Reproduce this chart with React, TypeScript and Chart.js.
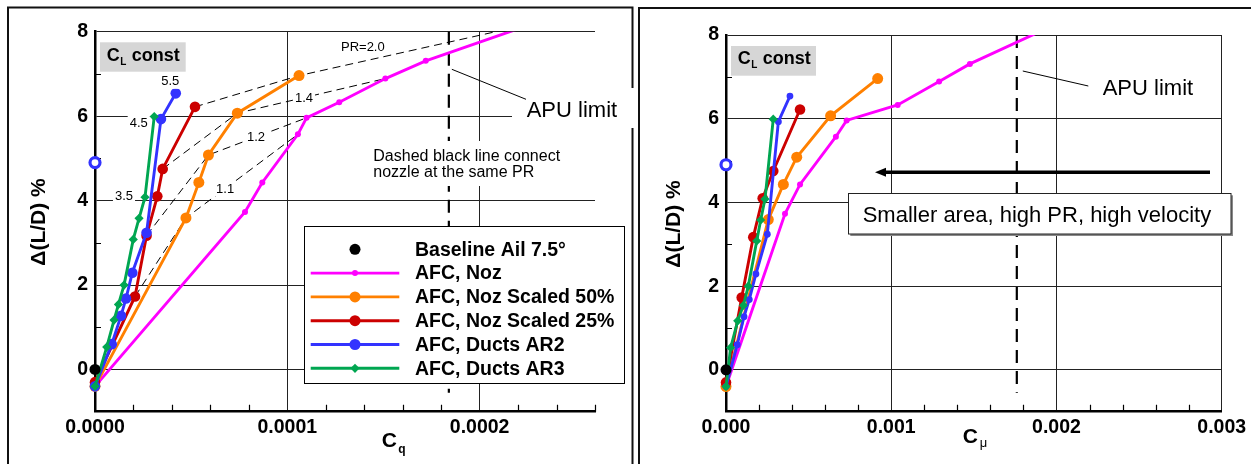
import React, { useEffect, useRef } from 'react';
import { Chart, registerables } from 'chart.js';

Chart.register(...registerables);

const FONT = '"Liberation Sans", Arial, Helvetica, sans-serif';

// ---------------- Data ----------------
const yTickValues = [0, 2, 4, 6, 8];
const yTickLabels = ['0', '2', '4', '6', '8'];
const yMinorTicks = [1, 3, 5, 7];

const cqTickValues = [0, 0.0001, 0.0002];
const cqTickLabels = ['0.0000', '0.0001', '0.0002'];
const cqMinorTicks = [0.00002, 0.00004, 0.00006, 0.00008, 0.00012, 0.00014, 0.00016, 0.00018, 0.00022, 0.00024, 0.00026];

const cmuTickValues = [0, 0.001, 0.002, 0.003];
const cmuTickLabels = ['0.000', '0.001', '0.002', '0.003'];
const cmuMinorTicks = [0.0002, 0.0004, 0.0006, 0.0008, 0.0012, 0.0014, 0.0016, 0.0018, 0.0022, 0.0024, 0.0026, 0.0028];

const seriesNames = ['Baseline Ail 7.5°', 'AFC, Noz', 'AFC, Noz Scaled 50%', 'AFC, Noz Scaled 25%', 'AFC, Ducts AR2', 'AFC, Ducts AR3'];

const baselineCq = [0];
const baselineCmu = [0];
const baselineDLD = [0];

const nozCq = [0, 0.000078, 0.000087, 0.0001055, 0.00011, 0.000127, 0.000151, 0.000172, 0.000229];
const nozCmu = [0, 0.000357, 0.000448, 0.000665, 0.00073, 0.001039, 0.00129, 0.001476, 0.00197];
const nozDLD = [-0.4, 3.73, 4.43, 5.57, 5.96, 6.33, 6.89, 7.31, 8.21];

const scaled50Cq = [0, 0.0000473, 0.000054, 0.000059, 0.000074, 0.0001061];
const scaled50Cmu = [0, 0.000256, 0.000347, 0.000428, 0.000633, 0.000918];
const scaled50DLD = [-0.4, 3.59, 4.43, 5.08, 6.07, 6.96];

const scaled25Cq = [0, 0.0000208, 0.0000268, 0.0000324, 0.0000352, 0.000052];
const scaled25Cmu = [0, 0.000095, 0.000165, 0.000222, 0.000286, 0.000448];
const scaled25DLD = [-0.3, 1.73, 3.17, 4.10, 4.75, 6.22];

const ar2Cq = [0, 0.0000087, 0.0000135, 0.0000161, 0.0000194, 0.0000268, 0.0000343, 0.000042];
const ar2Cmu = [0, 0.000068, 0.000109, 0.000141, 0.000181, 0.00025, 0.000317, 0.000387];
const ar2DLD = [-0.4, 0.60, 1.27, 1.68, 2.29, 3.24, 5.93, 6.54];

const ar3Cq = [0, 0.0000061, 0.0000099, 0.0000122, 0.0000151, 0.0000199, 0.0000229, 0.000026, 0.0000308];
const ar3Cmu = [0, 0.000028, 0.000071, 0.000105, 0.000135, 0.000186, 0.00021, 0.000236, 0.000286];
const ar3DLD = [-0.4, 0.53, 1.17, 1.54, 2.0, 3.08, 3.58, 4.08, 5.99];

const openAr2Cq = [0];
const openAr2Cmu = [0];
const openAr2DLD = [4.9];

// constant-PR connectors (indices into the nozzle series)
const prLabels = ['1.1', '1.2', '1.4', 'PR=2.0'];
const prScaled25Index = [1, 2, 4, 5];
const prScaled50Index = [1, 3, 4, 5];
const prNozIndex = [3, 4, 6, 8];

const ductLabels = ['5.5', '4.5', '3.5'];

const apuLimitCq = 0.000184;
const apuLimitCmu = 0.00176;

// ---------------- Styles ----------------
const C_MAG = '#ff00ff';
const C_ORA = '#ff8000';
const C_RED = '#cc0000';
const C_BLU = '#3333ff';
const C_GRN = '#00a651';

const pts = (xs: number[], ys: number[]) => xs.map((x, i) => ({ x, y: ys[i] }));

const CLIP = { left: 10, top: 0, right: 10, bottom: 10 };

function series(data: any[], color: string, r: number, style: string, order: number, showLine = true, bw = 2.9) {
  return {
    data,
    showLine,
    borderColor: color,
    backgroundColor: color,
    borderWidth: bw,
    pointRadius: r,
    pointStyle: style,
    pointBackgroundColor: color,
    pointBorderColor: color,
    pointBorderWidth: 0,
    tension: 0,
    order,
    clip: CLIP,
  };
}

function buildDatasets(isCq: boolean) {
  const X = (a: number[], b: number[]) => (isCq ? a : b);
  const ds: any[] = [
    series(pts(X(baselineCq, baselineCmu), baselineDLD), '#000', 5.5, 'circle', 0, false),
    series(pts(X(ar3Cq, ar3Cmu), ar3DLD), C_GRN, 4.6, 'rectRot', 1),
    series(pts(X(ar2Cq, ar2Cmu), ar2DLD), C_BLU, isCq ? 5.3 : 3.4, 'circle', 2),
    series(pts(X(scaled25Cq, scaled25Cmu), scaled25DLD), C_RED, 5.3, 'circle', 3),
    series(pts(X(scaled50Cq, scaled50Cmu), scaled50DLD), C_ORA, 5.5, 'circle', 4),
    series(pts(X(nozCq, nozCmu), nozDLD), C_MAG, 3, 'circle', 5),
    {
      data: pts(X(openAr2Cq, openAr2Cmu), openAr2DLD),
      showLine: false,
      pointRadius: 5,
      pointBorderWidth: 3.2,
      pointBorderColor: C_BLU,
      pointBackgroundColor: '#fff',
      order: 0,
      clip: CLIP,
    },
  ];
  if (isCq) {
    prLabels.forEach((_l, k) => {
      ds.push({
        data: [
          { x: scaled25Cq[prScaled25Index[k]], y: scaled25DLD[prScaled25Index[k]] },
          { x: scaled50Cq[prScaled50Index[k]], y: scaled50DLD[prScaled50Index[k]] },
          { x: nozCq[prNozIndex[k]], y: nozDLD[prNozIndex[k]] },
        ],
        showLine: true,
        borderColor: '#000',
        borderWidth: 1,
        borderDash: [8, 5],
        pointRadius: 0,
        tension: 0,
        order: 10,
        clip: CLIP,
      });
    });
  }
  return ds;
}

// ---------------- drawing helpers ----------------
function labelBox(ctx: CanvasRenderingContext2D, text: string, x: number, y: number, size: number, padX = 2) {
  ctx.save();
  ctx.font = `${size}px ${FONT}`;
  const w = ctx.measureText(text).width;
  ctx.fillStyle = '#fff';
  ctx.fillRect(x - w / 2 - padX, y - size / 2 - 1, w + 2 * padX, size + 2);
  ctx.fillStyle = '#000';
  ctx.textAlign = 'center';
  ctx.textBaseline = 'middle';
  ctx.fillText(text, x, y + 0.5);
  ctx.restore();
}

function marker(ctx: CanvasRenderingContext2D, style: string, x: number, y: number, r: number, color: string) {
  ctx.beginPath();
  if (style === 'rectRot') {
    ctx.moveTo(x, y - r);
    ctx.lineTo(x + r, y);
    ctx.lineTo(x, y + r);
    ctx.lineTo(x - r, y);
    ctx.closePath();
  } else {
    ctx.arc(x, y, r, 0, Math.PI * 2);
  }
  ctx.fillStyle = color;
  ctx.fill();
}

function drawCLconst(ctx: CanvasRenderingContext2D, bx: number, by: number, bw: number, bh: number, tx: number, base: number) {
  ctx.save();
  ctx.fillStyle = '#d6d6d6';
  ctx.fillRect(bx, by, bw, bh);
  ctx.fillStyle = '#000';
  ctx.textBaseline = 'alphabetic';
  ctx.textAlign = 'left';
  ctx.font = `bold 18px ${FONT}`;
  ctx.fillText('C', tx, base);
  const cw = ctx.measureText('C').width;
  ctx.font = `bold 10px ${FONT}`;
  ctx.fillText('L', tx + cw + 0.5, base + 4);
  const lw = ctx.measureText('L').width;
  ctx.font = `bold 18px ${FONT}`;
  ctx.fillText(' const', tx + cw + lw + 1, base);
  ctx.restore();
}

function drawYTitle(ctx: CanvasRenderingContext2D, x: number, y: number) {
  ctx.save();
  ctx.translate(x, y);
  ctx.rotate(-Math.PI / 2);
  ctx.font = `bold 21px ${FONT}`;
  ctx.fillStyle = '#000';
  ctx.textAlign = 'center';
  ctx.textBaseline = 'middle';
  ctx.fillText('\u0394(L/D) %', 0, 0);
  ctx.restore();
}

function drawMinorTicks(chart: any, xMinor: number[]) {
  const ctx = chart.ctx as CanvasRenderingContext2D;
  const xs = chart.scales.x;
  const ys = chart.scales.y;
  const a = chart.chartArea;
  ctx.save();
  ctx.strokeStyle = '#000';
  ctx.lineWidth = 1.2;
  ctx.beginPath();
  xMinor.forEach((v) => {
    const px = Math.round(xs.getPixelForValue(v)) + 0.5;
    ctx.moveTo(px, a.bottom);
    ctx.lineTo(px, a.bottom - 7);
  });
  yMinorTicks.forEach((v) => {
    const py = Math.round(ys.getPixelForValue(v)) + 0.5;
    ctx.moveTo(a.left, py);
    ctx.lineTo(a.left + 6, py);
  });
  ctx.stroke();
  ctx.restore();
}

function drawApu(chart: any, value: number) {
  const ctx = chart.ctx as CanvasRenderingContext2D;
  const xs = chart.scales.x;
  const ys = chart.scales.y;
  const px = xs.getPixelForValue(value);
  ctx.save();
  ctx.strokeStyle = '#000';
  ctx.lineWidth = 2.2;
  ctx.setLineDash([13, 8]);
  ctx.beginPath();
  ctx.moveTo(px, ys.getPixelForValue(8));
  ctx.lineTo(px, ys.getPixelForValue(-0.55));
  ctx.stroke();
  ctx.restore();
}

// ---------------- panel annotations ----------------
function leftAnnotations(chart: any) {
  const ctx = chart.ctx as CanvasRenderingContext2D;
  const xs = chart.scales.x;
  const ys = chart.scales.y;
  const P = (x: number, y: number) => ({ x: xs.getPixelForValue(x), y: ys.getPixelForValue(y) });

  // PR labels
  const tFrac = [0.35, 0.485, 0.45, 0.27];
  const dy = [0, 0, 0, -14.7];
  prLabels.forEach((lab, k) => {
    const o = P(scaled50Cq[prScaled50Index[k]], scaled50DLD[prScaled50Index[k]]);
    const m = P(nozCq[prNozIndex[k]], nozDLD[prNozIndex[k]]);
    const x = o.x + (m.x - o.x) * tFrac[k];
    const y = o.y + (m.y - o.y) * tFrac[k] + dy[k];
    labelBox(ctx, lab, x, y, 13);
  });

  // duct labels
  const a2 = P(ar2Cq[7], ar2DLD[7]);
  const a3top = P(ar3Cq[8], ar3DLD[8]);
  const a3mid = P(ar3Cq[7], ar3DLD[7]);
  labelBox(ctx, ductLabels[0], a2.x - 5.5, a2.y - 12, 13);
  labelBox(ctx, ductLabels[1], a3top.x - 15.5, a3top.y + 6.3, 13);
  labelBox(ctx, ductLabels[2], a3mid.x - 21, a3mid.y - 1.7, 13);

  // C_L const
  drawCLconst(ctx, 100, 42.3, 85.7, 29.4, 106.7, 61);

  // Dashed black line note
  ctx.save();
  ctx.fillStyle = '#fff';
  ctx.fillRect(370, 141, 206, 45);
  ctx.fillStyle = '#000';
  ctx.font = `16px ${FONT}`;
  ctx.textAlign = 'left';
  ctx.textBaseline = 'alphabetic';
  ctx.fillText('Dashed black line connect', 373.3, 160.7);
  ctx.fillText('nozzle at the same PR', 373.3, 176.7);
  ctx.restore();

  // APU limit
  ctx.save();
  ctx.fillStyle = '#fff';
  ctx.fillRect(512, 88, 124, 40);
  const ax = xs.getPixelForValue(apuLimitCq);
  ctx.strokeStyle = '#000';
  ctx.lineWidth = 1;
  ctx.beginPath();
  ctx.moveTo(ax + 3, 69.3);
  ctx.lineTo(526, 99.3);
  ctx.stroke();
  ctx.fillStyle = '#000';
  ctx.font = `22px ${FONT}`;
  ctx.textBaseline = 'alphabetic';
  ctx.fillText('APU limit', 526.7, 116.7);
  ctx.restore();

  // Legend
  const lx = 304.3, ly = 226, lw = 319.7, lh = 157.3;
  ctx.save();
  ctx.fillStyle = '#fff';
  ctx.fillRect(lx, ly, lw, lh);
  ctx.strokeStyle = '#000';
  ctx.lineWidth = 1;
  ctx.strokeRect(Math.round(lx) + 0.5, Math.round(ly) + 0.5, Math.round(lw), Math.round(lh));
  const styles = [
    { c: '#000', r: 5.5, s: 'circle', line: false },
    { c: C_MAG, r: 3, s: 'circle', line: true },
    { c: C_ORA, r: 5.5, s: 'circle', line: true },
    { c: C_RED, r: 5.5, s: 'circle', line: true },
    { c: C_BLU, r: 5.5, s: 'circle', line: true },
    { c: C_GRN, r: 4.6, s: 'rectRot', line: true },
  ];
  seriesNames.forEach((name, i) => {
    const y = 249.3 + i * 23.8;
    const st = styles[i];
    if (st.line) {
      ctx.strokeStyle = st.c;
      ctx.lineWidth = 2.9;
      ctx.beginPath();
      ctx.moveTo(310.7, y);
      ctx.lineTo(399.3, y);
      ctx.stroke();
    }
    marker(ctx, st.s, 355, y, st.r, st.c);
    ctx.fillStyle = '#000';
    ctx.font = `bold 19.5px ${FONT}`;
    ctx.textAlign = 'left';
    ctx.textBaseline = 'middle';
    ctx.fillText(name, 415, y + 1);
  });
  ctx.restore();

  // axis titles
  drawYTitle(ctx, 39.5, 222);
  ctx.save();
  ctx.fillStyle = '#000';
  ctx.font = `bold 21px ${FONT}`;
  ctx.textBaseline = 'alphabetic';
  ctx.fillText('C', 381.7, 446.7);
  const cw = ctx.measureText('C').width;
  ctx.font = `bold 12px ${FONT}`;
  ctx.fillText('q', 381.7 + cw + 1.5, 452.5);
  ctx.restore();
}

function rightAnnotations(chart: any) {
  const ctx = chart.ctx as CanvasRenderingContext2D;
  const xs = chart.scales.x;

  drawCLconst(ctx, 95, 46, 85, 29.7, 101.7, 64);

  // APU limit
  const ax = xs.getPixelForValue(apuLimitCmu);
  ctx.save();
  ctx.strokeStyle = '#000';
  ctx.lineWidth = 1;
  ctx.beginPath();
  ctx.moveTo(ax + 6, 71);
  ctx.lineTo(452.3, 86);
  ctx.stroke();
  ctx.fillStyle = '#000';
  ctx.font = `22px ${FONT}`;
  ctx.textBaseline = 'alphabetic';
  ctx.fillText('APU limit', 466.7, 95);
  ctx.restore();

  // arrow
  ctx.save();
  ctx.strokeStyle = '#000';
  ctx.fillStyle = '#000';
  ctx.lineWidth = 3.4;
  ctx.beginPath();
  ctx.moveTo(574, 172.3);
  ctx.lineTo(247, 172.3);
  ctx.stroke();
  ctx.beginPath();
  ctx.moveTo(239, 172.3);
  ctx.lineTo(250, 167.8);
  ctx.lineTo(250, 176.8);
  ctx.closePath();
  ctx.fill();
  ctx.restore();

  // text box
  ctx.save();
  ctx.fillStyle = '#888';
  ctx.fillRect(214.3, 195.3, 382.7, 40.7);
  ctx.fillStyle = '#fff';
  ctx.fillRect(212.3, 193.3, 382.7, 40.7);
  ctx.strokeStyle = '#222';
  ctx.lineWidth = 1;
  ctx.strokeRect(212.5, 193.5, 382.5, 40.5);
  ctx.fillStyle = '#000';
  ctx.font = `22px ${FONT}`;
  ctx.textBaseline = 'alphabetic';
  ctx.fillText('Smaller area, high PR, high velocity', 226.7, 221.7);
  ctx.restore();

  drawYTitle(ctx, 674 - 636, 224);
  ctx.save();
  ctx.fillStyle = '#000';
  ctx.font = `bold 21px ${FONT}`;
  ctx.textBaseline = 'alphabetic';
  ctx.fillText('C', 326.7, 442.7);
  const cw = ctx.measureText('C').width;
  ctx.font = `13px ${FONT}`;
  ctx.fillText('\u03bc', 326.7 + cw + 2, 447);
  ctx.restore();
}

// ---------------- chart factory ----------------
type PanelSpec = {
  width: number;
  height: number;
  area: { left: number; right: number; top: number; bottom: number };
  xMax: number;
  xTicks: number[];
  xLabels: string[];
  xMinor: number[];
  isCq: boolean;
  frame: { x: number; y: number; w: number; h: number };
  apu: number;
  annotate: (chart: any) => void;
};

function makeChart(canvas: HTMLCanvasElement, p: PanelSpec) {
  const tickFont = { family: FONT, size: 19.5, weight: 'bold' as const };
  const plugin = {
    id: 'panelDecor',
    beforeDraw(chart: any) {
      const ctx = chart.ctx as CanvasRenderingContext2D;
      ctx.save();
      ctx.fillStyle = '#fff';
      ctx.fillRect(0, 0, p.width, p.height);
      ctx.strokeStyle = '#111';
      ctx.lineWidth = 2;
      ctx.strokeRect(p.frame.x, p.frame.y, p.frame.w, p.frame.h);
      ctx.restore();
    },
    beforeDatasetsDraw(chart: any) {
      drawMinorTicks(chart, p.xMinor);
      drawApu(chart, p.apu);
    },
    afterDatasetsDraw(chart: any) {
      p.annotate(chart);
    },
  };
  return new Chart(canvas, {
    type: 'scatter',
    data: { datasets: buildDatasets(p.isCq) },
    options: {
      responsive: false,
      animation: false,
      devicePixelRatio: 1,
      events: [],
      layout: { padding: { left: 0, top: p.area.top, right: p.width - p.area.right, bottom: 0 } },
      plugins: { legend: { display: false }, tooltip: { enabled: false }, title: { display: false } },
      scales: {
        x: {
          type: 'linear',
          position: 'bottom',
          min: 0,
          max: p.xMax,
          afterBuildTicks: (s: any) => {
            s.ticks = p.xTicks.map((v) => ({ value: v }));
          },
          afterFit: (s: any) => {
            s.height = p.height - p.area.bottom;
          },
          ticks: {
            autoSkip: false,
            maxRotation: 0,
            minRotation: 0,
            padding: 4,
            color: '#000',
            font: tickFont,
            callback: (_v: any, i: number) => p.xLabels[i],
          },
          grid: { color: '#222', lineWidth: 1, drawTicks: false },
          border: { display: true, color: '#000', width: 2.5 },
        },
        y: {
          type: 'linear',
          min: -1,
          max: 8,
          afterBuildTicks: (s: any) => {
            s.ticks = yTickValues.map((v) => ({ value: v }));
          },
          afterFit: (s: any) => {
            s.width = p.area.left;
          },
          ticks: {
            autoSkip: false,
            padding: 7,
            color: '#000',
            font: tickFont,
            callback: (_v: any, i: number) => yTickLabels[i],
          },
          grid: { color: '#222', lineWidth: 1, drawTicks: false },
          border: { display: true, color: '#000', width: 2.5 },
        },
      },
    } as any,
    plugins: [plugin],
  } as any);
}

const LEFT: PanelSpec = {
  width: 636,
  height: 464,
  area: { left: 95, right: 595, top: 31.7, bottom: 411.7 },
  xMax: 0.00026,
  xTicks: cqTickValues,
  xLabels: cqTickLabels,
  xMinor: cqMinorTicks,
  isCq: true,
  frame: { x: 8, y: 7.5, w: 624.5, h: 470 },
  apu: apuLimitCq,
  annotate: leftAnnotations,
};

const RIGHT: PanelSpec = {
  width: 615,
  height: 464,
  area: { left: 90, right: 585.7, top: 35, bottom: 411.7 },
  xMax: 0.003,
  xTicks: cmuTickValues,
  xLabels: cmuTickLabels,
  xMinor: cmuMinorTicks,
  isCq: false,
  frame: { x: 3, y: 8, w: 640, h: 470 },
  apu: apuLimitCmu,
  annotate: rightAnnotations,
};

export default function App() {
  const leftRef = useRef<HTMLCanvasElement>(null);
  const rightRef = useRef<HTMLCanvasElement>(null);

  useEffect(() => {
    const c1 = makeChart(leftRef.current as HTMLCanvasElement, LEFT);
    const c2 = makeChart(rightRef.current as HTMLCanvasElement, RIGHT);
    return () => {
      c1.destroy();
      c2.destroy();
    };
  }, []);

  return (
    <div style={{ position: 'fixed', left: 0, top: 0, width: 1251, height: 464, overflow: 'hidden', background: '#fff' }}>
      <canvas ref={leftRef} width={636} height={464} style={{ position: 'absolute', left: 0, top: 0, width: 636, height: 464 }} />
      <canvas ref={rightRef} width={615} height={464} style={{ position: 'absolute', left: 636, top: 0, width: 615, height: 464 }} />
    </div>
  );
}
